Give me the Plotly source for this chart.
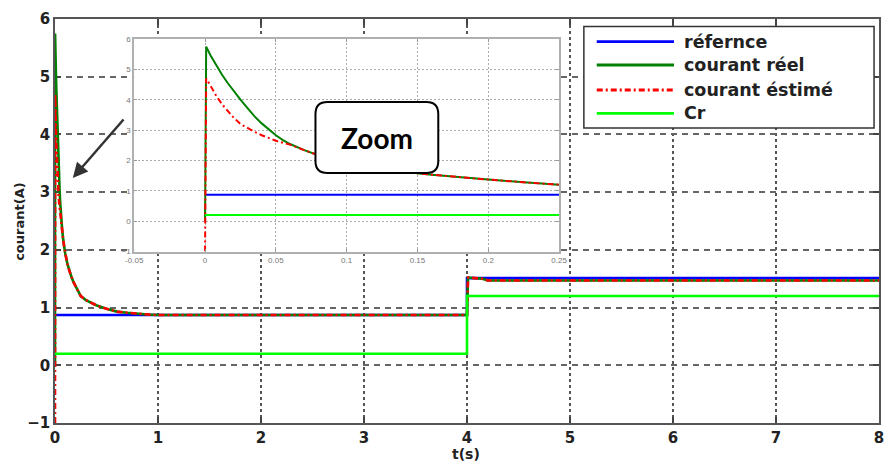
import plotly.graph_objects as go

# ---------------- data ----------------
series_names = ["réfernce", "courant réel", "courant éstimé", "Cr"]

t_ref = [0.0, 4.0, 4.0, 8.0]
i_ref = [0.87, 0.87, 1.51, 1.51]

t_cr = [0.0, 4.0, 4.0, 8.0]
i_cr = [0.2, 0.2, 1.2, 1.2]

t_reel = [0.0, 0.0008, 0.004, 0.008, 0.012, 0.016, 0.02, 0.025, 0.03, 0.035, 0.04, 0.045,
          0.05, 0.055, 0.06, 0.07, 0.08, 0.09, 0.1, 0.12, 0.14, 0.16, 0.18, 0.2, 0.225, 0.25,
          0.3, 0.35, 0.4, 0.5, 0.6, 0.7, 0.8, 0.9, 1.0, 4.0, 4.01, 4.15, 4.2, 8.0]
i_reel = [0.0, 5.75, 5.45, 5.12, 4.82, 4.55, 4.3, 4.0, 3.72, 3.45, 3.22, 3.01,
          2.83, 2.67, 2.54, 2.34, 2.17, 2.04, 1.93, 1.76, 1.63, 1.53, 1.44, 1.37, 1.28, 1.2,
          1.13, 1.08, 1.04, 0.98, 0.93, 0.91, 0.89, 0.88, 0.87, 0.87, 1.52, 1.5, 1.47, 1.47]

t_est = [0.0, 0.0008, 0.004, 0.008, 0.012, 0.016, 0.02, 0.025, 0.03, 0.035, 0.04, 0.045,
         0.05, 0.055, 0.06, 0.07, 0.08, 0.09, 0.1, 0.12, 0.14, 0.16, 0.18, 0.2, 0.225, 0.25,
         0.3, 0.35, 0.4, 0.5, 0.6, 0.7, 0.8, 0.9, 1.0, 4.0, 4.01, 4.15, 4.2, 8.0]
i_est = [-1.0, 4.7, 4.45, 4.12, 3.85, 3.62, 3.42, 3.2, 3.06, 2.94, 2.83, 2.73,
         2.65, 2.58, 2.52, 2.34, 2.17, 2.04, 1.93, 1.76, 1.63, 1.53, 1.44, 1.37, 1.28, 1.2,
         1.13, 1.08, 1.04, 0.98, 0.93, 0.91, 0.89, 0.88, 0.87, 0.87, 1.52, 1.5, 1.47, 1.47]

main_xticks = [0, 1, 2, 3, 4, 5, 6, 7, 8]
main_yticks = [-1, 0, 1, 2, 3, 4, 5, 6]
inset_xticks = [-0.05, 0, 0.05, 0.1, 0.15, 0.2, 0.25]
inset_xticklabels = ["-0.05", "0", "0.05", "0.1", "0.15", "0.2", "0.25"]
inset_yticks = [-1, 0, 1, 2, 3, 4, 5, 6]
inset_xrange = [-0.05, 0.25]
inset_yrange = [-1, 6]

colors = ["#0000FF", "#008000", "#FF0000", "#00FF00"]
dashes = ["solid", "solid", "6px,3px,2px,3px", "solid"]

# ---------------- layout helpers ----------------
W, H = 889, 463
ML, MR, MT, MB = 55, 2, 19, 40
PW, PH = W - ML - MR, H - MT - MB


def px(x):
    return (x - ML) / PW


def py(y):
    return (H - MB - y) / PH


fig = go.Figure()

data = [(t_ref, i_ref), (t_reel, i_reel), (t_est, i_est), (t_cr, i_cr)]
for k, (tt, vv) in enumerate(data):
    fig.add_trace(go.Scatter(x=tt, y=vv, mode="lines", name=series_names[k],
                             line=dict(color=colors[k], width=2.6, dash=dashes[k]),
                             xaxis="x", yaxis="y", showlegend=False, hoverinfo="skip"))
for k, (tt, vv) in enumerate(data):
    fig.add_trace(go.Scatter(x=tt, y=vv, mode="lines", name=series_names[k],
                             line=dict(color=colors[k], width=2.0, dash=dashes[k]),
                             xaxis="x2", yaxis="y2", showlegend=False, hoverinfo="skip"))

tickfont = dict(family="DejaVu Sans", size=15, color="#222", weight="bold")
insetfont = dict(family="Liberation Sans", size=8, color="#777")

fig.update_layout(
    width=W, height=H,
    margin=dict(l=ML, r=MR, t=MT, b=MB),
    paper_bgcolor="white", plot_bgcolor="white",
    showlegend=False,
    xaxis=dict(domain=[0, 1], range=[0, 8], tickvals=main_xticks, ticks="inside", ticklen=6,
               tickcolor="#444", tickwidth=1.5,
               showline=True, mirror="ticks", linecolor="#555", linewidth=1.5,
               showgrid=True, gridcolor="#555", gridwidth=1.5, griddash="3px,3px",
               zeroline=False, tickfont=tickfont, layer="below traces"),
    yaxis=dict(domain=[0, 1], range=[-1, 6], tickvals=main_yticks, ticks="inside", ticklen=6,
               tickcolor="#444", tickwidth=1.5,
               showline=True, mirror="ticks", linecolor="#555", linewidth=1.5,
               showgrid=True, gridcolor="#666", gridwidth=1.5, griddash="6px,5px",
               zeroline=False, tickfont=tickfont, layer="below traces"),
    xaxis2=dict(domain=[px(135), px(564)], anchor="y2", range=inset_xrange,
                tickvals=inset_xticks, ticktext=inset_xticklabels,
                ticks="inside", ticklen=3, tickcolor="#999",
                showline=True, mirror="ticks", linecolor="#b0b0b0", linewidth=2,
                showgrid=True, gridcolor="#aaa", gridwidth=1, griddash="2px,2px",
                zeroline=False, tickfont=insetfont),
    yaxis2=dict(domain=[py(251.5), py(39)], anchor="x2", range=inset_yrange,
                tickvals=inset_yticks, ticks="inside", ticklen=3, tickcolor="#999",
                showline=True, mirror="ticks", linecolor="#b0b0b0", linewidth=2,
                showgrid=True, gridcolor="#aaa", gridwidth=1, griddash="2px,2px",
                zeroline=False, tickfont=insetfont),
)

shapes = []
# white background of the inset (drawn in the inset's own layer, above the main grid)
shapes.append(dict(type="rect", xref="x2", yref="y2",
                   x0=inset_xrange[0], x1=inset_xrange[1], y0=inset_yrange[0], y1=inset_yrange[1],
                   line=dict(width=0), fillcolor="white", layer="below"))
# legend box
shapes.append(dict(type="rect", xref="paper", yref="paper",
                   x0=px(589), x1=px(882), y0=py(128), y1=py(26.5),
                   line=dict(color="#333", width=1.5), fillcolor="white", layer="above"))
legend_rows = [41.7, 65.0, 90.0, 113.3]
for k, yy in enumerate(legend_rows):
    shapes.append(dict(type="line", xref="paper", yref="paper",
                       x0=px(602), x1=px(680), y0=py(yy), y1=py(yy),
                       line=dict(color=colors[k], width=2.8, dash=dashes[k]), layer="above"))

# rounded "Zoom" box
bx0, bx1, by0, by1 = px(318), px(442), py(173), py(102)
rx, ry = 12 / PW, 12 / PH
path = (f"M{bx0+rx},{by1} L{bx1-rx},{by1} Q{bx1},{by1} {bx1},{by1-ry} "
        f"L{bx1},{by0+ry} Q{bx1},{by0} {bx1-rx},{by0} L{bx0+rx},{by0} "
        f"Q{bx0},{by0} {bx0},{by0+ry} L{bx0},{by1-ry} Q{bx0},{by1} {bx0+rx},{by1} Z")
shapes.append(dict(type="path", xref="paper", yref="paper", path=path,
                   line=dict(color="black", width=2), fillcolor="white", layer="above"))
fig.update_layout(shapes=shapes)

ann = []
for k, yy in enumerate(legend_rows):
    ann.append(dict(xref="paper", yref="paper", x=px(688), y=py(yy), xanchor="left", yanchor="middle",
                    text=series_names[k], showarrow=False,
                    font=dict(family="DejaVu Sans", size=17.5, color="#222", weight="bold")))
ann.append(dict(xref="paper", yref="paper", x=px(380), y=py(137.5), xanchor="center", yanchor="middle",
                text="Zoom", showarrow=False,
                font=dict(family="Lato", size=28, color="black", weight="bold")))
ann.append(dict(xref="paper", yref="paper", x=px(73), y=py(178), text="", showarrow=True,
                ax=52, ay=-60, arrowhead=2, arrowsize=1.2, arrowwidth=2.5, arrowcolor="#333"))
ann.append(dict(xref="paper", yref="paper", x=px(19), y=py(221.5), xanchor="center", yanchor="middle",
                text="courant(A)", textangle=-90, showarrow=False,
                font=dict(family="DejaVu Sans", size=13, color="#222", weight="bold")))
ann.append(dict(xref="paper", yref="paper", x=px(470), y=py(453.5), xanchor="center", yanchor="middle",
                text="t(s)", showarrow=False,
                font=dict(family="DejaVu Sans", size=14, color="#222", weight="bold")))
fig.update_layout(annotations=ann)

fig.write_html("out.html")
